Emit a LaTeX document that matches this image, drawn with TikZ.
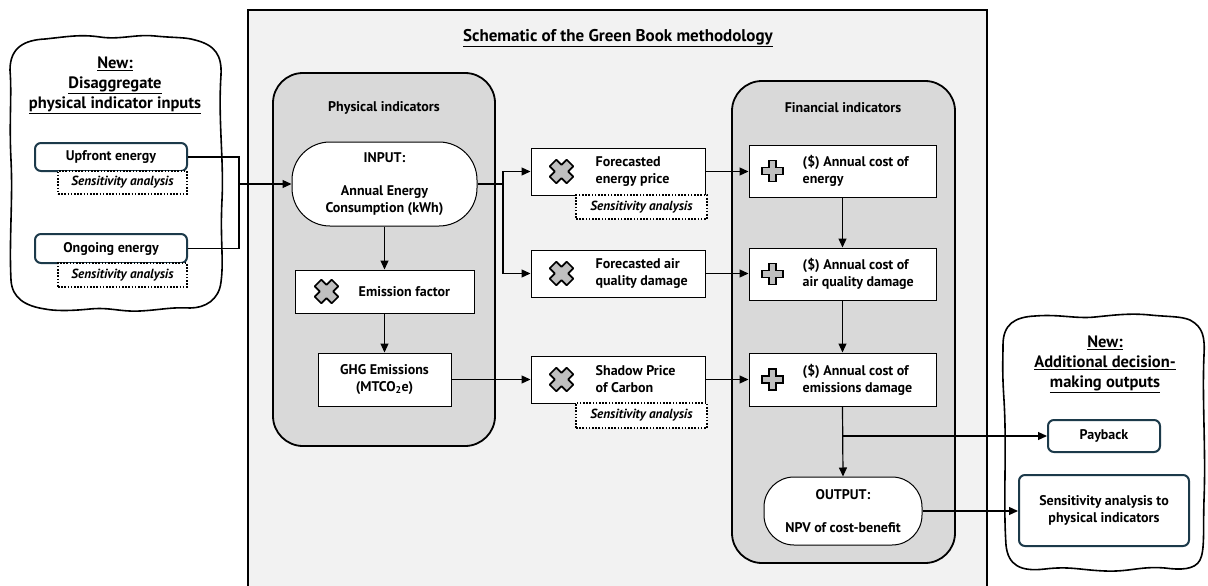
\documentclass[tikz,border=0pt]{standalone}
\usepackage{fontspec}
\setmainfont{PT Sans}
\usetikzlibrary{arrows.meta,calc}

\definecolor{pagebg}{HTML}{F2F2F2}
\definecolor{contbg}{HTML}{D9D9D9}
\definecolor{tealline}{HTML}{1C3A4A}
\definecolor{icongray}{HTML}{BFBFBF}

\tikzset{
  x=1pt, y=-1pt,
  txt/.style={font=\bfseries\fontsize{14}{17}\selectfont},
  wbox/.style={txt, draw=black, line width=1pt, fill=white, inner sep=0pt},
  tealbox/.style={txt, draw=tealline, line width=2pt, rounded corners=6pt, fill=white, inner sep=0pt, align=center},
  sabox/.style={draw=black, line width=1.6pt, dash pattern=on 1.6pt off 1.6pt, fill=white, inner sep=0pt,
                font=\bfseries\itshape\fontsize{13.2}{15}\selectfont},
  lbl/.style={txt, inner sep=0pt, align=left, anchor=west},
  heading/.style={txt, inner sep=0pt},
  cloudtitle/.style={font=\bfseries\fontsize{16.5}{20}\selectfont, inner sep=0pt, align=center},
  container/.style={draw=black, line width=1.8pt, fill=contbg, rounded corners=30pt},
  cloudline/.style={draw=black, line width=1.6pt, fill=white},
  conn/.style={line width=1.2pt},
  arr/.style={conn, -{Triangle[length=9pt,width=8pt]}},
  crossicon/.pic={
    \draw[line width=1.7pt, line join=round, fill=icongray, rotate=45]
      (-4.7,12) -- (4.7,12) -- (4.7,4.7) -- (12,4.7) -- (12,-4.7) -- (4.7,-4.7)
      -- (4.7,-12) -- (-4.7,-12) -- (-4.7,-4.7) -- (-12,-4.7) -- (-12,4.7) -- (-4.7,4.7) -- cycle;
  },
  plusicon/.pic={
    \draw[line width=1.6pt, line join=miter, fill=icongray]
      (-3.6,-10.5) -- (3.6,-10.5) -- (3.6,-3.6) -- (10.5,-3.6) -- (10.5,3.6) -- (3.6,3.6)
      -- (3.6,10.5) -- (-3.6,10.5) -- (-3.6,3.6) -- (-10.5,3.6) -- (-10.5,-3.6) -- (-3.6,-3.6) -- cycle;
  },
}

\begin{document}
\begin{tikzpicture}
\useasboundingbox[fill=white] (0,0) rectangle (1208,586);

% overall methodology frame
\draw[line width=1.8pt, fill=pagebg] (248,10) rectangle (987,600);
\node[heading, font=\bfseries\fontsize{17}{19}\selectfont] (title) at (618,38) {\underline{Schematic of the Green Book methodology}};

% left cloud: disaggregated inputs
\path[cloudline] (10,70)
  .. controls (10,47) and (25,40) .. (45,39)
  .. controls (65,37) and (80,34) .. (100,37)
  .. controls (120,40) and (135,34) .. (155,36)
  .. controls (175,38) and (185,37) .. (195,40)
  .. controls (215,45) and (222,55) .. (221,75)
  .. controls (218,120) and (224,160) .. (222,200)
  .. controls (220,240) and (224,260) .. (221,282)
  .. controls (219,300) and (205,308) .. (190,308)
  .. controls (170,307) and (160,310) .. (140,311)
  .. controls (120,312) and (110,307) .. (90,309)
  .. controls (70,311) and (55,311) .. (45,309)
  .. controls (25,306) and (12,298) .. (11,280)
  .. controls (9,240) and (13,200) .. (11,160)
  .. controls (9,120) and (12,95) .. (10,70) -- cycle;
\node[cloudtitle] (ltitle) at (115,85) {\underline{New:}\\\underline{Disaggregate}\\\underline{physical indicator inputs}};
\node[tealbox, minimum width=152pt, minimum height=28pt] (upfront) at (111,157) {Upfront energy};
\node[sabox, minimum width=129pt, minimum height=23pt] (sa1) at (122.5,182.5) {Sensitivity analysis};
\node[tealbox, minimum width=152pt, minimum height=29pt] (ongoing) at (111,248.5) {Ongoing energy};
\node[sabox, minimum width=129pt, minimum height=24pt] (sa2) at (122.5,275) {Sensitivity analysis};

% right cloud: additional outputs
\path[cloudline] (1003,345)
  .. controls (1003,324) and (1015,317) .. (1035,316)
  .. controls (1060,314) and (1075,319) .. (1095,317)
  .. controls (1115,315) and (1130,313) .. (1150,315)
  .. controls (1170,317) and (1180,316) .. (1190,320)
  .. controls (1203,327) and (1205,337) .. (1204,355)
  .. controls (1202,400) and (1206,450) .. (1204,500)
  .. controls (1203,530) and (1205,550) .. (1200,560)
  .. controls (1195,570) and (1180,570) .. (1165,568)
  .. controls (1140,566) and (1130,572) .. (1105,571)
  .. controls (1080,570) and (1070,566) .. (1045,569)
  .. controls (1020,572) and (1008,565) .. (1006,545)
  .. controls (1003,500) and (1007,450) .. (1004,400)
  .. controls (1002,370) and (1003,360) .. (1003,345) -- cycle;
\node[cloudtitle] (rtitle) at (1105,364) {\underline{New:}\\\underline{Additional decision-}\\\underline{making outputs}};
\node[tealbox, minimum width=112pt, minimum height=32pt] (payback) at (1104,436) {Payback};
\node[tealbox, minimum width=170pt, minimum height=71pt] (sap) at (1104,510.5) {Sensitivity analysis to\\physical indicators};

% physical indicators column
\path[container] (273,73) rectangle (495,446);
\node[heading] (phys) at (384,108) {Physical indicators};
\node[wbox, rounded corners=38pt, minimum width=185pt, minimum height=84pt, align=center] (input) at (384.5,184)
  {INPUT:\\[16pt]Annual Energy\\Consumption (kWh)};
\node[wbox, minimum width=179pt, minimum height=43pt] (emis) at (384.5,291.5) {};
\pic at ($(emis.west)+(32,0)$) {crossicon};
\node[lbl] (emislbl) at ($(emis.west)+(64,0)$) {Emission factor};
\node[wbox, minimum width=133pt, minimum height=53pt, align=center] (ghg) at (384.5,379.5)
  {GHG Emissions\\(MTCO\textsubscript{2}e)};

% multipliers
\node[wbox, minimum width=174pt, minimum height=47pt] (fep) at (618,171.5) {};
\pic at ($(fep.west)+(31,0)$) {crossicon};
\node[lbl] (feplbl) at ($(fep.west)+(65,0)$) {Forecasted\\energy price};
\node[sabox, minimum width=131pt, minimum height=24pt] (sa3) at (641.5,207) {Sensitivity analysis};

\node[wbox, minimum width=174pt, minimum height=47pt] (faq) at (618,273.5) {};
\pic at ($(faq.west)+(31,0)$) {crossicon};
\node[lbl] (faqlbl) at ($(faq.west)+(65,0)$) {Forecasted air\\quality damage};

\node[wbox, minimum width=174pt, minimum height=47pt] (spc) at (618,379.5) {};
\pic at ($(spc.west)+(31,0)$) {crossicon};
\node[lbl] (spclbl) at ($(spc.west)+(65,0)$) {Shadow Price\\of Carbon};
\node[sabox, minimum width=131pt, minimum height=25pt] (sa4) at (641.5,415.5) {Sensitivity analysis};

% financial indicators column
\path[container] (732,81) rectangle (955,563);
\node[heading] (fin) at (843,108) {Financial indicators};
\node[wbox, minimum width=187pt, minimum height=52pt] (ace) at (842.5,171) {};
\pic at ($(ace.west)+(24,0)$) {plusicon};
\node[lbl] (acelbl) at ($(ace.west)+(54,0)$) {(\$) Annual cost of\\energy};
\node[wbox, minimum width=187pt, minimum height=52pt] (aaq) at (842.5,274) {};
\pic at ($(aaq.west)+(24,0)$) {plusicon};
\node[lbl] (aaqlbl) at ($(aaq.west)+(54,0)$) {(\$) Annual cost of\\air quality damage};
\node[wbox, minimum width=187pt, minimum height=53pt] (aem) at (842.5,379.5) {};
\pic at ($(aem.west)+(24,0)$) {plusicon};
\node[lbl] (aemlbl) at ($(aem.west)+(54,0)$) {(\$) Annual cost of\\emissions damage};
\node[wbox, rounded corners=30pt, minimum width=158pt, minimum height=68pt, align=center] (out) at (843,511)
  {OUTPUT:\\[16pt]NPV of cost-benefit};

% junction points
\coordinate (lj) at (239,184);
\coordinate (mj) at (503,184);
\coordinate (bj) at (842.5,436);

% connectors
\draw[conn] (upfront.east) -| (lj) |- (ongoing.east);
\draw[arr] (lj) -- (input.west);
\draw[arr] (input.south) -- (emis.north);
\draw[arr] (emis.south) -- (ghg.north);
\draw[conn] (input.east) -- (mj);
\draw[arr] (mj) |- (fep.west);
\draw[arr] (mj) |- (faq.west);
\draw[arr] (ghg.east) -- (spc.west);
\draw[arr] (fep.east) -- (fep.east -| ace.west);
\draw[arr] (faq.east) -- (faq.east -| aaq.west);
\draw[arr] (spc.east) -- (aem.west);
\draw[arr] (ace.south) -- (aaq.north);
\draw[arr] (aaq.south) -- (aem.north);
\draw[arr] (aem.south) -- (out.north);
\draw[arr] (bj) -- (payback.west);
\draw[arr] (out.east) -- (out.east -| sap.west);
\end{tikzpicture}
\end{document}
